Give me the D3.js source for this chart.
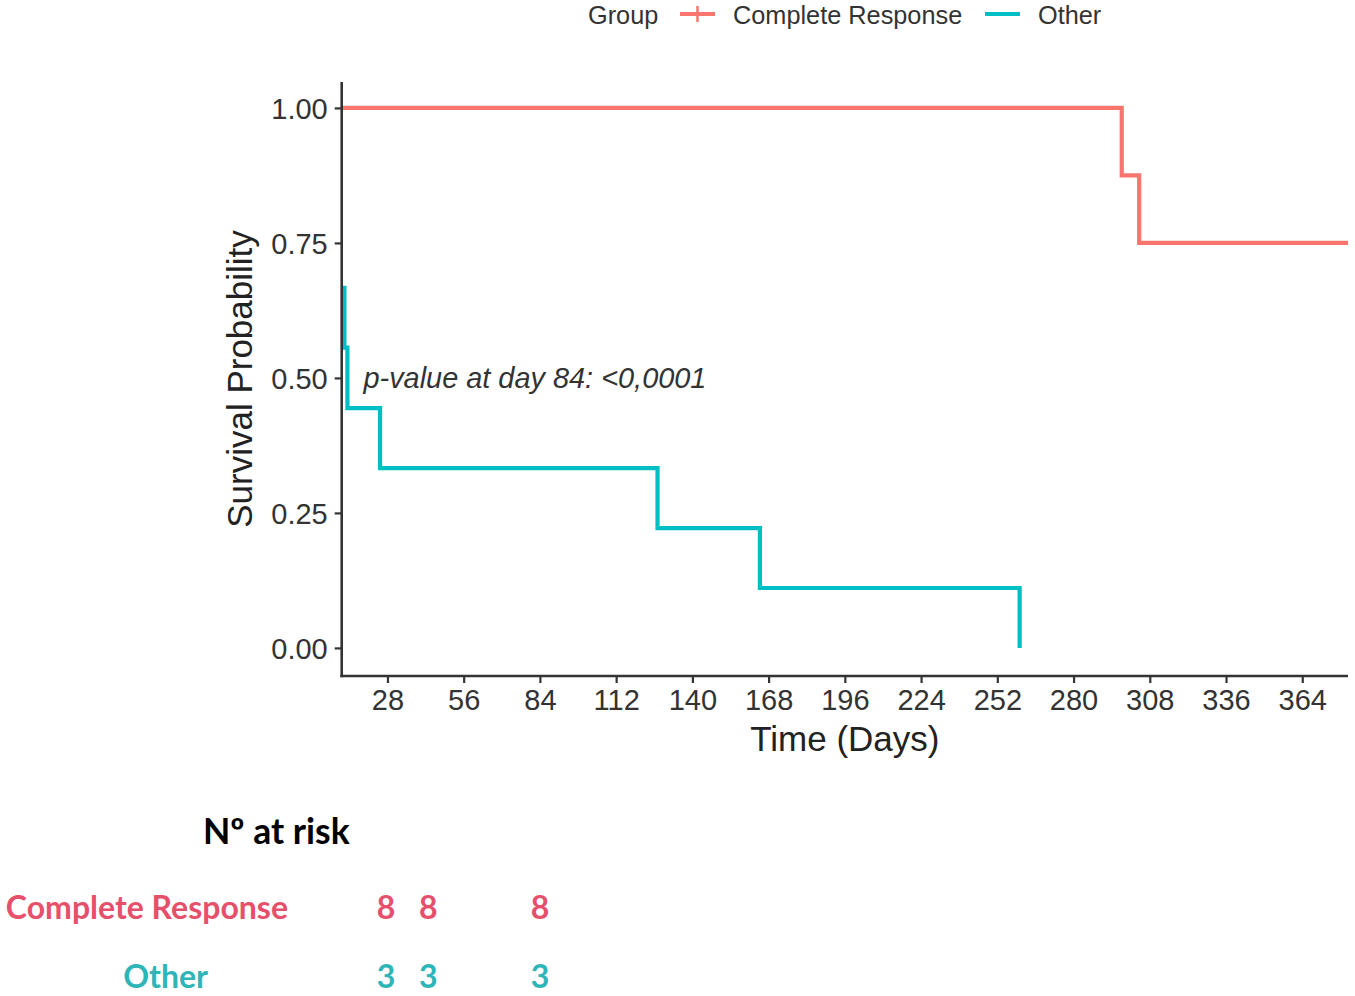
<!DOCTYPE html>
<html>
<head>
<meta charset="utf-8">
<script src="https://cdn.jsdelivr.net/npm/d3@7"></script>
<style>
  body { margin: 0; background: #fff; }
  svg { display: block; }
</style>
</head>
<body>
<div id="chart"></div>
<script>
// survival curves (days, probability)
var groups = ["Complete Response", "Other"];
var crTime = [0, 297.7, 304.1, 381];
var crSurv = [1, 0.875, 0.75, 0.75];
var otherTime = [0, 12.2, 13.3, 25.3, 127.2, 164.8, 260.2];
var otherSurv = [0.667, 0.556, 0.444, 0.333, 0.222, 0.111, 0];

var xTicks = [28, 56, 84, 112, 140, 168, 196, 224, 252, 280, 308, 336, 364];
var yTicks = [0, 0.25, 0.5, 0.75, 1];

// number at risk table
var riskTimes = [27.5, 43, 84];
var riskCR = [8, 8, 8];
var riskOther = [3, 3, 3];

var pText = "p-value at day 84: <0,0001";
var pPos = [19.2, 0.5];

var lineColor = ["#F8766D", "#00BFC4"];
var tableColor = ["#E6506A", "#2EB5B7"];

var width = 1355, height = 996;
var plotLeft = 341.7, plotRight = 1348, plotTop = 82, plotBottom = 676;

var svg = d3.select("#chart")
    .append("svg")
    .attr("width", width)
    .attr("height", height);

var x = d3.scaleLinear().domain([11.2, 380.8]).range([plotLeft, plotRight]);
var y = d3.scaleLinear().domain([-0.052, 1.048]).range([plotBottom, plotTop]);

svg.append("clipPath")
    .attr("id", "plotClip")
    .append("rect")
    .attr("x", plotLeft)
    .attr("y", plotTop)
    .attr("width", plotRight - plotLeft)
    .attr("height", plotBottom - plotTop);

var line = d3.line()
    .x(function(d) { return x(d[0]); })
    .y(function(d) { return y(d[1]); })
    .curve(d3.curveStepAfter);

var series = [d3.zip(crTime, crSurv), d3.zip(otherTime, otherSurv)];

svg.append("g")
    .attr("clip-path", "url(#plotClip)")
    .selectAll("path")
    .data(series)
    .enter()
    .append("path")
    .attr("d", line)
    .attr("fill", "none")
    .attr("stroke", function(d, i) { return lineColor[i]; })
    .attr("stroke-width", 4.2)
    .attr("stroke-linejoin", "miter");

// axes
var xAxis = svg.append("g")
    .attr("transform", "translate(0," + plotBottom + ")")
    .call(d3.axisBottom(x).tickValues(xTicks).tickSize(7).tickPadding(6).tickSizeOuter(0));

var yAxis = svg.append("g")
    .attr("transform", "translate(" + plotLeft + ",0)")
    .call(d3.axisLeft(y).tickValues(yTicks).tickSize(7).tickPadding(7).tickSizeOuter(0)
        .tickFormat(d3.format(".2f")));

[xAxis, yAxis].forEach(function(ax) {
    ax.select(".domain").attr("stroke", "#333").attr("stroke-width", 2.6);
    ax.selectAll(".tick line").attr("stroke", "#333").attr("stroke-width", 2.2);
    ax.selectAll(".tick text")
        .attr("fill", "#333")
        .style("font-family", "'Liberation Sans', Arial, sans-serif")
        .style("font-size", "29px");
});
xAxis.select(".domain").attr("d", "M" + (plotLeft - 1.3) + ",0H" + plotRight);
yAxis.select(".domain").attr("d", "M0," + plotTop + "V" + (plotBottom + 1.3));
yAxis.selectAll(".tick text").attr("dy", "0.35em");

// axis titles
svg.append("text")
    .attr("x", (plotLeft + plotRight) / 2)
    .attr("y", 751)
    .attr("text-anchor", "middle")
    .attr("fill", "#222")
    .style("font-family", "'Liberation Sans', Arial, sans-serif")
    .style("font-size", "35px")
    .text("Time (Days)");

svg.append("text")
    .attr("transform", "translate(252," + ((plotTop + plotBottom) / 2) + ") rotate(-90)")
    .attr("text-anchor", "middle")
    .attr("fill", "#222")
    .style("font-family", "'Liberation Sans', Arial, sans-serif")
    .style("font-size", "35px")
    .text("Survival Probability");

// p-value annotation
svg.append("text")
    .attr("x", x(pPos[0]))
    .attr("y", y(pPos[1]))
    .attr("dy", "0.35em")
    .attr("fill", "#333")
    .style("font-family", "'Liberation Sans', Arial, sans-serif")
    .style("font-size", "28.9px")
    .style("font-style", "italic")
    .text(pText);

// legend
var legend = svg.append("g")
    .style("font-family", "'Liberation Sans', Arial, sans-serif")
    .style("font-size", "25.3px")
    .attr("fill", "#333");

legend.append("text").attr("x", 588).attr("y", 24).text("Group");

var keyX = [680, 985];
var labelX = [733, 1038];
groups.forEach(function(g, i) {
    legend.append("line")
        .attr("x1", keyX[i]).attr("x2", keyX[i] + 35)
        .attr("y1", 14).attr("y2", 14)
        .attr("stroke", lineColor[i])
        .attr("stroke-width", 4);
    if (i == 0) {
        legend.append("line")
            .attr("x1", keyX[i] + 17.5).attr("x2", keyX[i] + 17.5)
            .attr("y1", 6).attr("y2", 22)
            .attr("stroke", lineColor[i])
            .attr("stroke-width", 2.5);
    }
    legend.append("text").attr("x", labelX[i]).attr("y", 24).text(g);
});

// number at risk table
var tableFont = "Lato, 'Open Sans', sans-serif";

svg.append("text")
    .attr("x", 203)
    .attr("y", 844)
    .attr("fill", "#000")
    .style("font-family", tableFont)
    .style("font-weight", "bold")
    .style("font-size", "35.5px")
    .text("N\u00ba at risk");

var rowY = [919, 988];
var rowLabelX = [288, 208];
var rowValues = [riskCR, riskOther];

groups.forEach(function(g, i) {
    svg.append("text")
        .attr("x", rowLabelX[i])
        .attr("y", rowY[i])
        .attr("text-anchor", "end")
        .attr("fill", tableColor[i])
        .style("font-family", tableFont)
        .style("font-weight", "bold")
        .style("font-size", "32px")
        .text(g);

    svg.selectAll(null)
        .data(rowValues[i])
        .enter()
        .append("text")
        .attr("x", function(d, j) { return x(riskTimes[j]); })
        .attr("y", rowY[i])
        .attr("text-anchor", "middle")
        .attr("fill", tableColor[i])
        .style("font-family", tableFont)
        .style("font-weight", "bold")
        .style("font-size", "32px")
        .text(function(d) { return d; });
});
</script>
</body>
</html>
